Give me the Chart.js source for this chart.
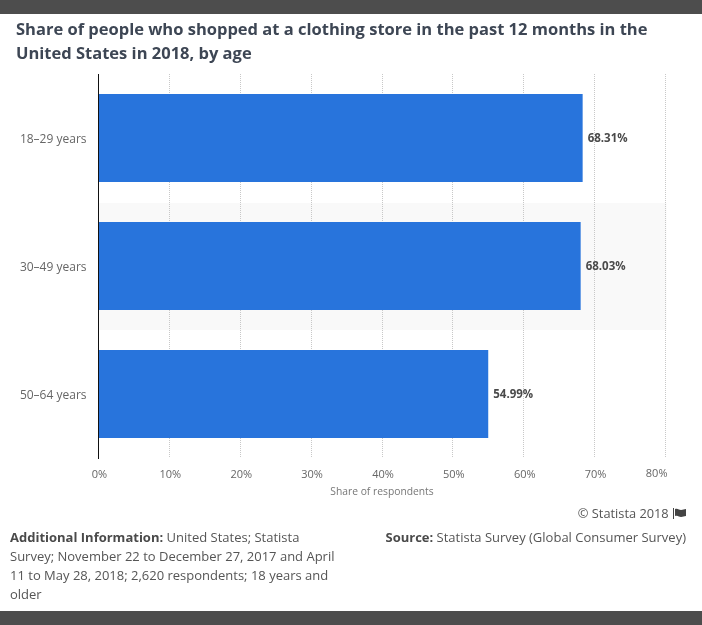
<!DOCTYPE html>
<html>
<head>
<meta charset="utf-8">
<title>Clothing store shoppers by age</title>
<script src="https://cdn.jsdelivr.net/npm/chart.js@4"></script>
<style>
    html, body { margin: 0; padding: 0; background: #fff; }
    body { width: 702px; height: 625px; position: relative; overflow: hidden; font-family: "Open Sans", sans-serif; color: #555; }
    canvas { position: absolute; left: 0; top: 0; }
    .bar { position: absolute; left: 0; width: 702px; height: 14px; background: #4d4d4d; }
    #title { position: absolute; left: 16px; top: 17px; width: 680px; font-size: 16.5px; font-weight: 700; line-height: 24px; color: #3d4654; }
    #info { position: absolute; left: 10px; top: 528px; width: 335px; font-size: 13px; line-height: 19px; }
    #source { position: absolute; right: 16px; top: 528px; font-size: 13px; line-height: 19px; white-space: nowrap; }
    #copy { position: absolute; right: 16px; top: 504px; font-size: 12.8px; line-height: 18px; white-space: nowrap; }
    #copy svg { vertical-align: -1px; margin-left: 1px; }
    b { color: #4a4a4a; }
</style>
</head>
<body>
<div class="bar" style="top:0"></div>
<div class="bar" style="top:611px"></div>
<canvas id="chart" width="702" height="625"></canvas>
<div id="title">Share of people who shopped at a clothing store in the past 12 months in the<br>United States in 2018, by age</div>
<div id="copy">© Statista 2018 <svg width="13" height="11" viewBox="0 0 13 11"><path d="M0 0h1v11H0z M2 1c3-1 4 1 6 1s3-1 5-1v7c-2 0-3 1-5 1S5 7 2 8z" fill="#444"/></svg></div>
<div id="info"><b>Additional Information:</b> United States; Statista Survey; November 22 to December 27, 2017 and April 11 to May 28, 2018; 2,620 respondents; 18 years and older</div>
<div id="source"><b>Source:</b> Statista Survey (Global Consumer Survey)</div>

<script>
const categories = ['18–29 years', '30–49 years', '50–64 years'];
const shares = [68.31, 68.03, 54.99];
const shadedRows = [1];
const axisMax = 80;
const axisStep = 10;

// Alternating row background, goes under the grid lines
const rowBands = {
    id: 'rowBands',
    beforeDraw(chart) {
        const { ctx, chartArea, scales } = chart;
        const rowHeight = chartArea.height / categories.length;
        ctx.save();
        ctx.fillStyle = '#f9f9f9';
        shadedRows.forEach(i => {
            const y = scales.y.getPixelForValue(i) - rowHeight / 2;
            ctx.fillRect(chartArea.left, y + 1, chartArea.width + 1, rowHeight - 1);
        });
        ctx.restore();
    }
};

// Value labels next to the bars, and the last x tick which sits inside the plot edge
const barLabels = {
    id: 'barLabels',
    afterDatasetsDraw(chart) {
        const { ctx, scales } = chart;
        ctx.save();
        ctx.font = 'bold 11.5px "Open Sans"';
        ctx.fillStyle = '#4a4a4a';
        ctx.textBaseline = 'middle';
        chart.getDatasetMeta(0).data.forEach((bar, i) => {
            ctx.fillText(shares[i].toFixed(2) + '%', bar.x + 5, bar.y + 1);
        });
        ctx.font = '11px "Open Sans"';
        ctx.fillStyle = '#666';
        ctx.textAlign = 'right';
        ctx.fillText(axisMax + '%', scales.x.getPixelForValue(axisMax) + 2, 474);
        ctx.restore();
    }
};

new Chart(document.getElementById('chart'), {
    type: 'bar',
    data: {
        labels: categories,
        datasets: [{
            data: shares,
            backgroundColor: '#2874dc',
            barPercentage: 0.6875,
            categoryPercentage: 1
        }]
    },
    options: {
        indexAxis: 'y',
        responsive: false,
        animation: false,
        layout: { padding: { left: 0, right: 36.5, top: 74, bottom: 127 } },
        plugins: { legend: { display: false }, tooltip: { enabled: false } },
        scales: {
            x: {
                min: 0,
                max: axisMax,
                afterFit(scale) { scale.height = 40; },
                border: { display: false, dash: [1, 1] },
                grid: { color: '#c8c8c8', drawTicks: false },
                ticks: {
                    stepSize: axisStep,
                    maxRotation: 0,
                    padding: 10,
                    labelOffset: 1,
                    font: { family: 'Open Sans', size: 11 },
                    color: ctx => ctx.tick.value === axisMax ? 'rgba(0,0,0,0)' : '#666',
                    callback: v => v + '%'
                },
                title: {
                    display: true,
                    text: 'Share of respondents',
                    font: { family: 'Open Sans', size: 10.3 },
                    color: '#777',
                    padding: { top: 2, bottom: 0 }
                }
            },
            y: {
                afterFit(scale) { scale.width = 98.5; },
                border: { display: true, color: '#111', width: 1 },
                grid: { display: false, drawTicks: false },
                ticks: { padding: 12, labelOffset: 2, font: { family: 'Open Sans', size: 12 }, color: '#666' }
            }
        }
    },
    plugins: [rowBands, barLabels]
});
</script>
</body>
</html>
